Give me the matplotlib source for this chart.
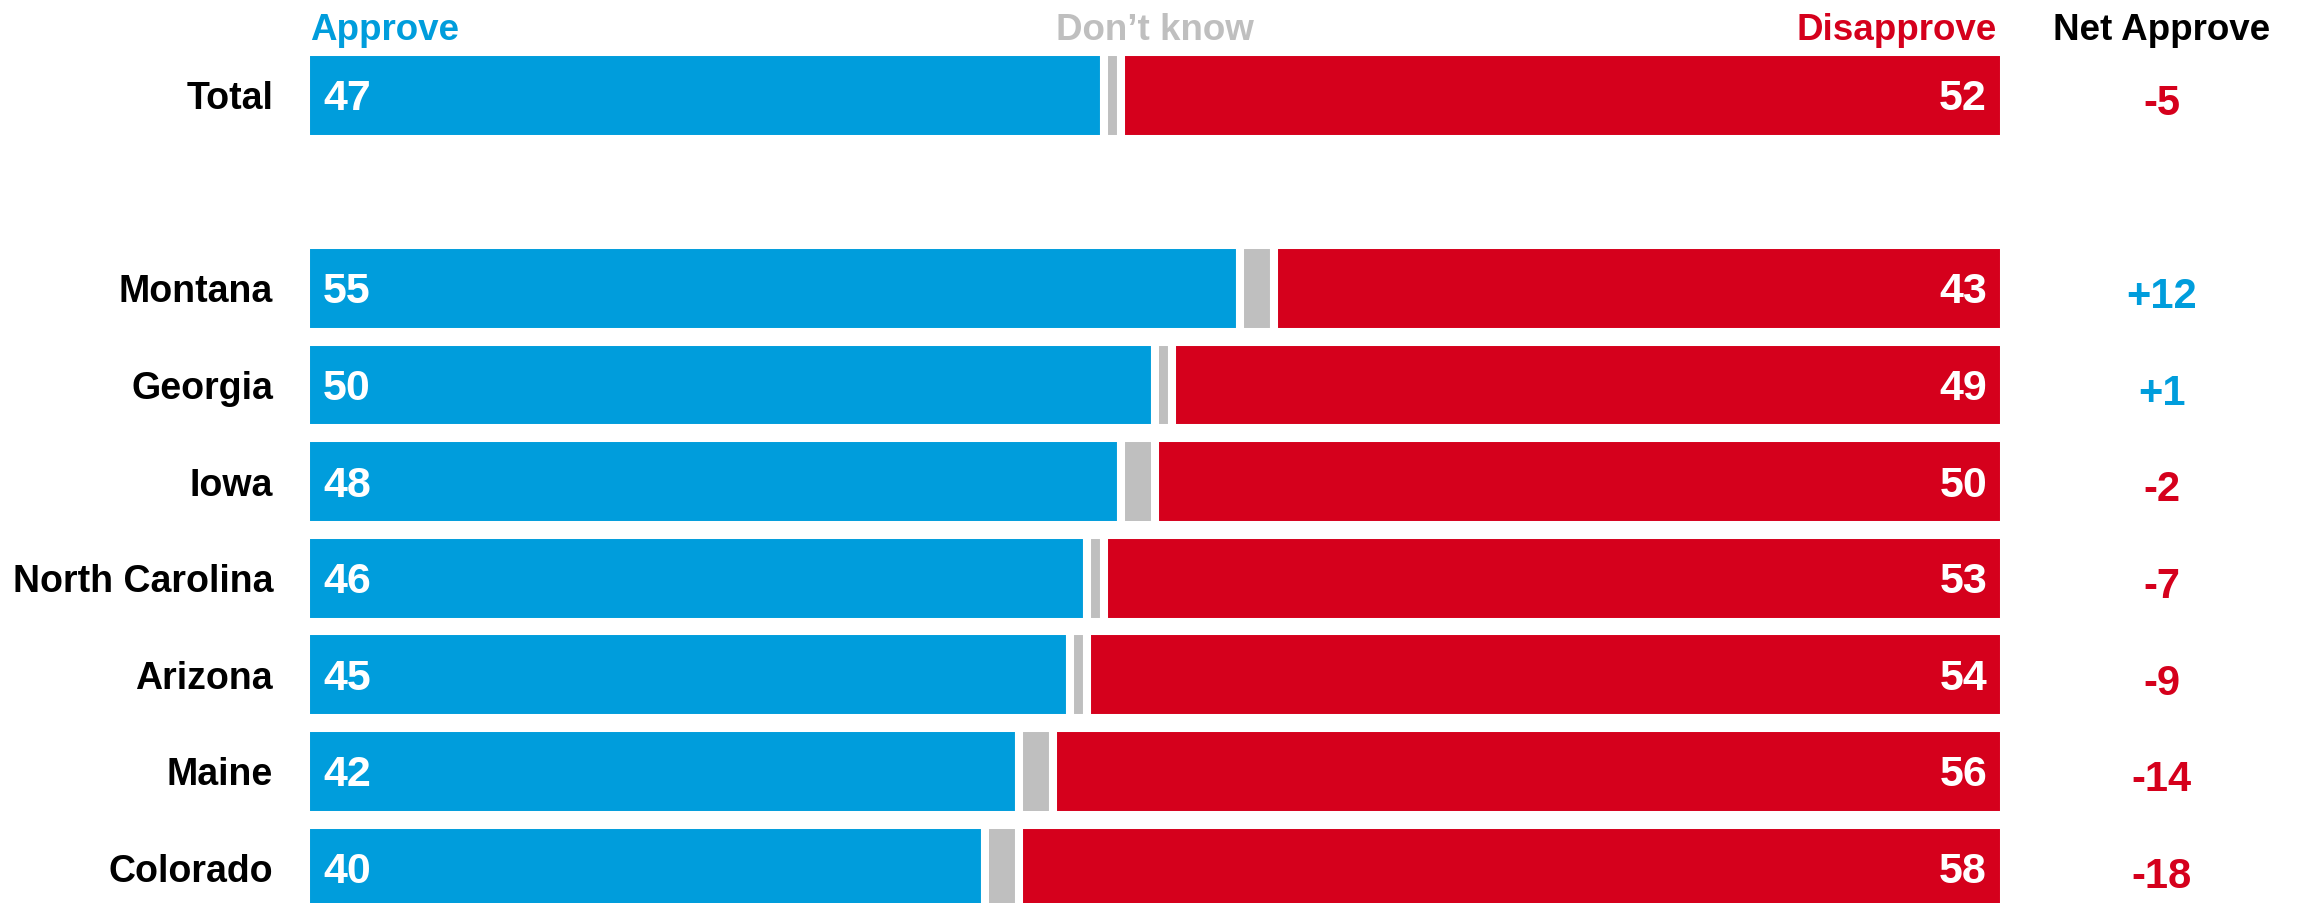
import numpy as np
import matplotlib
matplotlib.use("Agg")
import matplotlib.pyplot as plt

plt.rcParams['font.family'] = ['Liberation Sans', 'DejaVu Sans']
plt.rcParams['font.weight'] = 'bold'

# Approval by state, percent
labels = ["Total", "Montana", "Georgia", "Iowa", "North Carolina",
          "Arizona", "Maine", "Colorado"]
approve = np.array([47, 55, 50, 48, 46, 45, 42, 40])
dont_know = np.array([1, 2, 1, 2, 1, 1, 2, 2])
disapprove = np.array([52, 43, 49, 50, 53, 54, 56, 58])
net = approve - disapprove

BLUE = "#009DDC"
RED = "#D5001C"
GREY = "#BFBFBF"

# Total sits on its own, with an empty row below it
ypos = np.array([0, 2, 3, 4, 5, 6, 7, 8])

fig = plt.figure(figsize=(23.05, 9.04), dpi=100)
ax = fig.add_axes([306 / 2305, 0, 1698 / 2305, 1])

h = 0.9
ew = 5.8
ax.barh(ypos, approve, height=h, color=BLUE, edgecolor="white", linewidth=ew)
ax.barh(ypos, dont_know, left=approve, height=h, color=GREY,
        edgecolor="white", linewidth=ew)
ax.barh(ypos, disapprove, left=approve + dont_know, height=h, color=RED,
        edgecolor="white", linewidth=ew)

ax.set_xlim(0, 100)
ax.set_ylim(8.36, -0.994)
ax.axis("off")

dy = 0.03  # nudge text onto the bar centre
for y, lab, a, d, n in zip(ypos, labels, approve, disapprove, net):
    ax.text(-1.94, y + dy, lab, ha="right", va="center", fontsize=27,
            color="black", clip_on=False)
    ax.text(1.0, y + dy, str(a), ha="left", va="center", fontsize=31,
            color="white")
    ax.text(99.0, y + dy, str(d), ha="right", va="center", fontsize=31,
            color="white")
    ax.text(109.3, y + 0.08, f"{n:+d}", ha="center", va="center",
            fontsize=30, color=BLUE if n > 0 else RED, clip_on=False)

# column headers
hy = -0.68
hfs = 26.5
ax.text(0.25, hy, "Approve", ha="left", va="center", fontsize=hfs,
        color=BLUE, clip_on=False)
ax.text(50, hy, "Don\u2019t know", ha="center", va="center", fontsize=hfs,
        color=GREY, clip_on=False)
ax.text(99.6, hy, "Disapprove", ha="right", va="center", fontsize=hfs,
        color=RED, clip_on=False)
ax.text(109.3, hy, "Net Approve", ha="center", va="center", fontsize=hfs,
        color="black", clip_on=False)

fig.savefig("out.png", dpi=100)
